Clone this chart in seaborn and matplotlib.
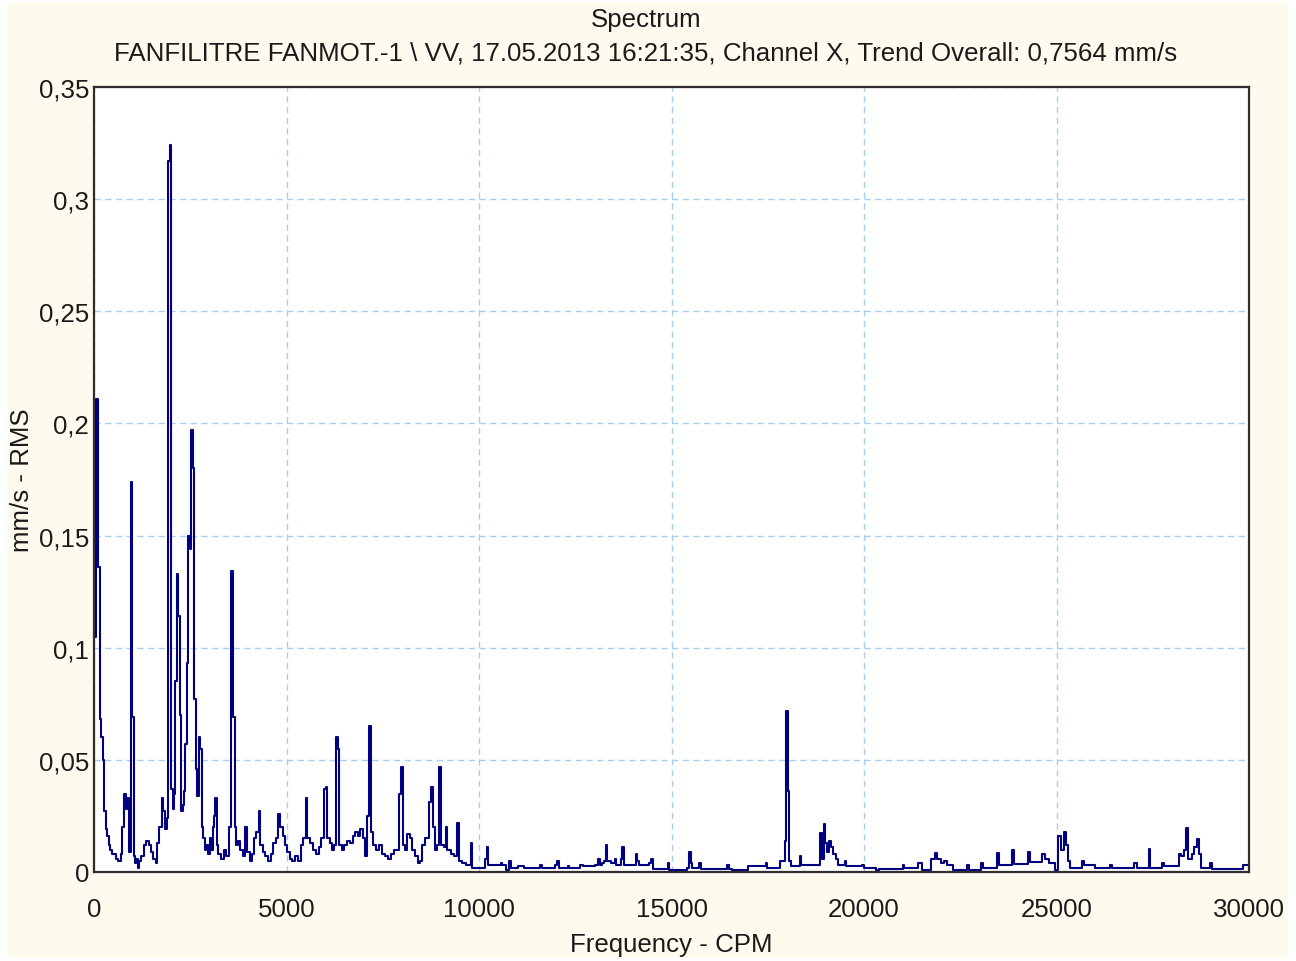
import matplotlib
matplotlib.use("Agg")
import matplotlib.pyplot as plt
from matplotlib.patches import Rectangle
import numpy as np
import pandas as pd
import seaborn as sns

# Spectrum lines: frequency (CPM) where each step starts, and its RMS velocity (mm/s)
cpm_low = [0, 55, 95, 150, 190, 225, 260, 300, 340, 380, 420, 480, 560, 630, 690,
           740, 790, 830, 870, 915, 950, 990, 1030, 1065, 1100, 1140, 1180, 1230,
           1290, 1350, 1420, 1470, 1540, 1600, 1640, 1700, 1760, 1800, 1850, 1890,
           1925, 1965, 2000, 2040, 2080, 2114, 2150, 2190, 2230, 2265, 2300, 2340,
           2375, 2410, 2450, 2490, 2525, 2560, 2610, 2640, 2675, 2715, 2755, 2800,
           2840, 2880, 2920, 2960, 3000, 3040, 3080, 3115, 3150, 3185, 3230, 3300,
           3380, 3440, 3500, 3560, 3600, 3650, 3690, 3740, 3800, 3860, 3920, 3970,
           4040, 4100, 4150, 4220, 4280, 4320, 4380, 4450, 4530, 4600, 4660, 4720,
           4780, 4830, 4900, 4960, 5010, 5080, 5150, 5230, 5300, 5380, 5440, 5500,
           5545, 5620, 5700, 5770, 5840, 5900, 5980, 6020, 6060, 6120, 6180, 6240,
           6285, 6330, 6360, 6430, 6500, 6560, 6640, 6720, 6790, 6860, 6920, 6980,
           7040, 7090, 7150, 7190, 7250, 7320, 7400, 7480, 7560, 7640, 7720, 7800,
           7870, 7930, 7972, 8016, 8080, 8140, 8200, 8250, 8330, 8420, 8480, 8530,
           8600, 8700, 8765, 8810, 8860, 8920, 8968, 9010, 9080, 9140, 9180, 9260,
           9340, 9436, 9480, 9560, 9650, 9782, 9830, 9900]
amp_low = [0.105, 0.211, 0.136, 0.068, 0.060, 0.050, 0.027, 0.019, 0.016, 0.012,
           0.010, 0.008, 0.006, 0.005, 0.008, 0.020, 0.035, 0.028, 0.033, 0.009,
           0.174, 0.069, 0.007, 0.004, 0.006, 0.002, 0.005, 0.007, 0.012, 0.014,
           0.012, 0.009, 0.006, 0.004, 0.013, 0.020, 0.033, 0.027, 0.019, 0.024,
           0.317, 0.324, 0.037, 0.028, 0.035, 0.085, 0.133, 0.114, 0.070, 0.027,
           0.030, 0.036, 0.057, 0.093, 0.150, 0.144, 0.197, 0.180, 0.077, 0.046,
           0.034, 0.060, 0.055, 0.020, 0.015, 0.010, 0.012, 0.008, 0.015, 0.010,
           0.020, 0.025, 0.033, 0.012, 0.008, 0.006, 0.010, 0.007, 0.020, 0.134,
           0.069, 0.020, 0.012, 0.014, 0.010, 0.007, 0.020, 0.009, 0.005, 0.008,
           0.015, 0.018, 0.027, 0.012, 0.009, 0.007, 0.005, 0.008, 0.013, 0.015,
           0.026, 0.020, 0.016, 0.012, 0.009, 0.006, 0.005, 0.007, 0.005, 0.012,
           0.015, 0.033, 0.015, 0.013, 0.010, 0.008, 0.011, 0.015, 0.037, 0.038,
           0.015, 0.013, 0.010, 0.012, 0.060, 0.055, 0.012, 0.010, 0.012, 0.014,
           0.013, 0.016, 0.018, 0.016, 0.019, 0.015, 0.007, 0.025, 0.065, 0.018,
           0.012, 0.010, 0.012, 0.008, 0.007, 0.006, 0.008, 0.010, 0.010, 0.035,
           0.047, 0.012, 0.010, 0.017, 0.015, 0.010, 0.007, 0.004, 0.005, 0.012,
           0.015, 0.031, 0.038, 0.020, 0.010, 0.012, 0.047, 0.012, 0.011, 0.020,
           0.010, 0.008, 0.007, 0.022, 0.005, 0.004, 0.003, 0.013, 0.002, 0.002]

cpm_mid = [10160, 10206, 10245, 10400, 10566, 10610, 10695, 10780, 10823, 11000,
           11166, 11595, 11640, 11980, 12024, 12070, 12300, 12350, 12624, 12700,
           13000, 13096, 13140, 13182, 13250, 13293, 13335, 13420, 13525, 13568,
           13680, 13722, 13765, 14000, 14065, 14110, 14165, 14425, 14468, 14511,
           14854, 14897, 14940, 15410, 15454, 15497, 15540, 15711, 15754, 16440,
           16483, 16569, 16998, 17444, 17487, 17813, 17940, 17980, 18020, 18060,
           18100, 18327, 18370, 18859, 18900, 18950, 18990, 19050, 19100, 19140,
           19200, 19270, 19320, 19500, 19540, 19957, 20000, 20300, 20350]
amp_mid = [0.006, 0.011, 0.003, 0.003, 0.004, 0.003, 0.001, 0.0047, 0.002, 0.0025,
           0.002, 0.003, 0.002, 0.003, 0.005, 0.002, 0.0025, 0.002, 0.003, 0.0025,
           0.003, 0.006, 0.003, 0.004, 0.005, 0.012, 0.005, 0.004, 0.006, 0.003,
           0.006, 0.011, 0.003, 0.003, 0.008, 0.005, 0.003, 0.004, 0.006, 0.0015,
           0.0015, 0.004, 0.001, 0.002, 0.009, 0.004, 0.002, 0.004, 0.0015, 0.003,
           0.0015, 0.001, 0.0025, 0.004, 0.002, 0.005, 0.014, 0.072, 0.036, 0.005,
           0.0025, 0.007, 0.003, 0.0176, 0.006, 0.0212, 0.013, 0.009, 0.014, 0.011,
           0.008, 0.006, 0.003, 0.005, 0.0025, 0.003, 0.002, 0.0, 0.001]

cpm_high = [20400, 21000, 21050, 21400, 21500, 21750, 21850, 21900, 22000, 22080,
            22150, 22300, 22680, 22720, 23050, 23100, 23460, 23510, 23850, 23900,
            24250, 24300, 24630, 24700, 24800, 24970, 25040, 25120, 25190, 25240,
            25290, 25360, 25660, 25720, 26000, 26400, 26450, 27020, 27080, 27390,
            27440, 27750, 27800, 28180, 28240, 28300, 28360, 28410, 28530, 28580,
            28660, 28710, 28760, 28980, 29030, 29850, 30000]
amp_high = [0.0015, 0.003, 0.002, 0.004, 0.001, 0.006, 0.0084, 0.006, 0.004, 0.005,
            0.003, 0.001, 0.003, 0.001, 0.004, 0.002, 0.0084, 0.003, 0.0096, 0.0035,
            0.0088, 0.0045, 0.008, 0.006, 0.004, 0.001, 0.016, 0.010, 0.018, 0.012,
            0.005, 0.002, 0.005, 0.003, 0.002, 0.003, 0.002, 0.004, 0.002, 0.0104,
            0.002, 0.004, 0.0025, 0.008, 0.007, 0.010, 0.0194, 0.006, 0.008, 0.011,
            0.0149, 0.008, 0.002, 0.004, 0.0015, 0.003, 0.003]

x_ticks = [0, 5000, 10000, 15000, 20000, 25000, 30000]
x_tick_labels = ["0", "5000", "10000", "15000", "20000", "25000", "30000"]
y_ticks = [0, 0.05, 0.1, 0.15, 0.2, 0.25, 0.3, 0.35]
y_tick_labels = ["0", "0,05", "0,1", "0,15", "0,2", "0,25", "0,3", "0,35"]

title_text = "Spectrum"
subtitle_text = ("FANFILITRE FANMOT.-1 \\ VV, 17.05.2013 16:21:35, Channel X, "
                 "Trend Overall: 0,7564 mm/s")

spectrum = pd.DataFrame({
    "cpm": cpm_low + cpm_mid + cpm_high,
    "amp": amp_low + amp_mid + amp_high,
})

sns.set_style("white")
plt.rcParams["font.family"] = ["Liberation Sans", "DejaVu Sans"]
FS = 18.6
GRID = "#a8cdf3"
INK = "#1a1a1a"

W, H = 1296, 962
fig = plt.figure(figsize=(W / 100, H / 100), dpi=100, facecolor="white")
fig.patches.append(Rectangle((7 / W, 3 / H), (1288 - 7) / W, (959 - 3) / H,
                             transform=fig.transFigure, facecolor="#fffaee",
                             edgecolor="none", zorder=-10))

ax = fig.add_axes([94 / W, 1 - 873 / H, (1249 - 94) / W, (873 - 88) / H])
ax.set_facecolor("white")

sns.lineplot(data=spectrum, x="cpm", y="amp", ax=ax, color="#000080",
             linewidth=1.5, drawstyle="steps-post", estimator=None)

ax.set_xlim(0, 30000)
ax.set_ylim(0, 0.35)
ax.set_xticks(x_ticks)
ax.set_xticklabels(x_tick_labels, fontsize=FS)
ax.set_yticks(y_ticks)
ax.set_yticklabels(y_tick_labels, fontsize=FS)
ax.tick_params(axis="x", length=0, pad=18, colors=INK)
ax.tick_params(axis="y", length=3, width=1, pad=0.5, color=GRID,
               labelcolor=INK)

ax.grid(True, color=GRID, linestyle=(0, (4.5, 3.2)), linewidth=1.0)
ax.set_axisbelow(True)

for sp in ax.spines.values():
    sp.set_visible(True)
    sp.set_color("#2e2e2e")
    sp.set_linewidth(1.6)
    sp.set_zorder(5)

ax.set_xlabel("Frequency - CPM", fontsize=FS, labelpad=8, color=INK)
ax.set_ylabel("mm/s - RMS", fontsize=FS, labelpad=3, color=INK)

fig.text(646 / W, 1 - 20 / H, title_text, ha="center", va="center",
         fontsize=FS, color=INK)
fig.text(646 / W, 1 - 54 / H, subtitle_text, ha="center", va="center",
         fontsize=FS, color=INK)

fig.savefig("out.png", dpi=100, facecolor=fig.get_facecolor())
